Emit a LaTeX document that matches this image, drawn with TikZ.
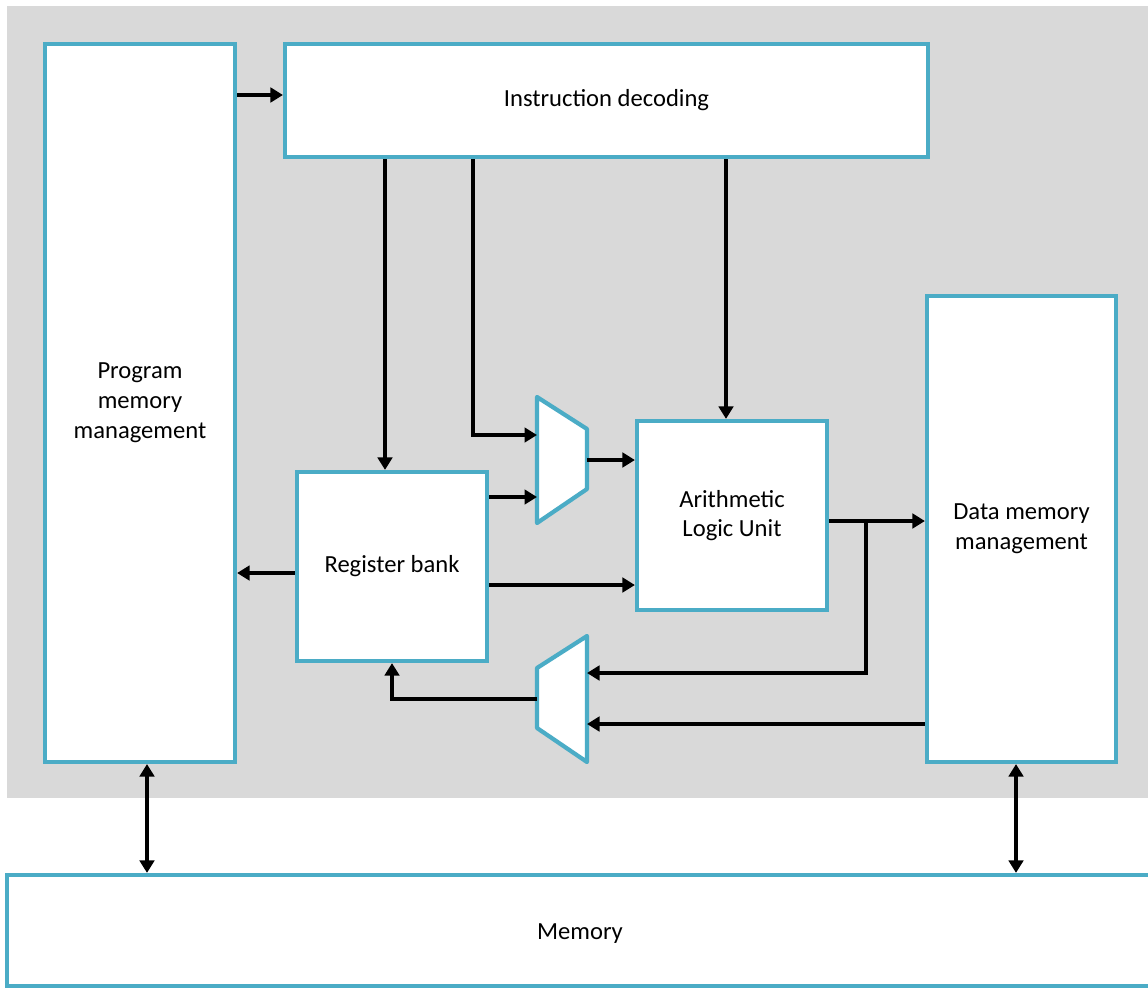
\documentclass[tikz,border=0pt]{standalone}
\usepackage{fontspec}
\setmainfont{Carlito}
\usepackage{tikz}
\usetikzlibrary{positioning,arrows.meta}
\usepackage{xcolor}
\definecolor{blockedge}{HTML}{4BACC6}
\definecolor{bggray}{HTML}{D9D9D9}

\begin{document}
\begin{tikzpicture}[
                x=0.02cm, y=-0.02cm,
                font=\fontsize{14}{17}\selectfont,
                box/.style={draw=blockedge, line width=2.4pt, fill=white, align=center, inner sep=0pt},
                mux/.style={draw=blockedge, line width=2.4pt, fill=white, line join=round},
                arr/.style={line width=2.3pt, -{Triangle[length=0.25cm, width=0.29cm]}},
                biarr/.style={line width=2.3pt, {Triangle[length=0.25cm, width=0.29cm]}-{Triangle[length=0.25cm, width=0.29cm]}}
            ]
                \useasboundingbox (0,0) rectangle (1148,987);
                \fill[bggray] (7,6) rectangle (1148,798);

                % Blocks
                \node[box, minimum width=3.8cm, minimum height=14.36cm] (prog) at (140,403) {Program\\memory\\management};
                \node[box, minimum width=12.86cm, minimum height=2.26cm] (instr) at (606.5,100.5) {Instruction decoding};
                \node[box, minimum width=3.78cm, minimum height=9.32cm] (data) at (1021.5,529) {Data memory\\management};
                \node[box, minimum width=3.8cm, minimum height=3.78cm] (reg) at (392,566.5) {Register bank};
                \node[box, minimum width=3.8cm, minimum height=3.78cm] (alu) at (732,515.5) {Arithmetic\\Logic Unit};
                \node[box, minimum width=23.26cm, minimum height=2.22cm] (mem) at (588.5,930.5) {};
                \node (memtext) at (580,934) {Memory};

                % Multiplexers
                \draw[mux] (537,397) -- (587,429) -- (587,489) -- (537,523) -- cycle;
                \coordinate (muxa-in1) at (537,435);
                \coordinate (muxa-in2) at (537,497);
                \coordinate (muxa-out) at (587,460);
                \draw[mux] (537,668) -- (587,636) -- (587,762) -- (537,728) -- cycle;
                \coordinate (muxb-in1) at (587,673);
                \coordinate (muxb-in2) at (587,724);
                \coordinate (muxb-out) at (537,699);
                \coordinate (branch) at (866,521);

                % Decoder outputs
                \draw[arr] (prog.east |- 0,95) -- (instr.west |- 0,95);
                \draw[arr] (instr.south -| 385,0) -- (reg.north -| 385,0);
                \draw[arr] (instr.south -| 473,0) |- (muxa-in1);
                \draw[arr] (instr.south -| 726,0) -- (alu.north -| 726,0);

                % Data path
                \draw[arr] (reg.east |- muxa-in2) -- (muxa-in2);
                \draw[arr] (muxa-out) -- (alu.west |- muxa-out);
                \draw[arr] (reg.east |- 0,585) -- (alu.west |- 0,585);
                \draw[arr] (reg.west |- 0,573) -- (prog.east |- 0,573);
                \draw[arr] (alu.east |- branch) -- (data.west |- branch);
                \draw[arr] (branch) |- (muxb-in1);
                \draw[arr] (data.west |- muxb-in2) -- (muxb-in2);
                \draw[arr] (muxb-out) -| (reg.south -| 392,0);

                % Memory buses
                \draw[biarr] (prog.south -| 147,0) -- (mem.north -| 147,0);
                \draw[biarr] (data.south -| 1016,0) -- (mem.north -| 1016,0);
            \end{tikzpicture}
\end{document}
